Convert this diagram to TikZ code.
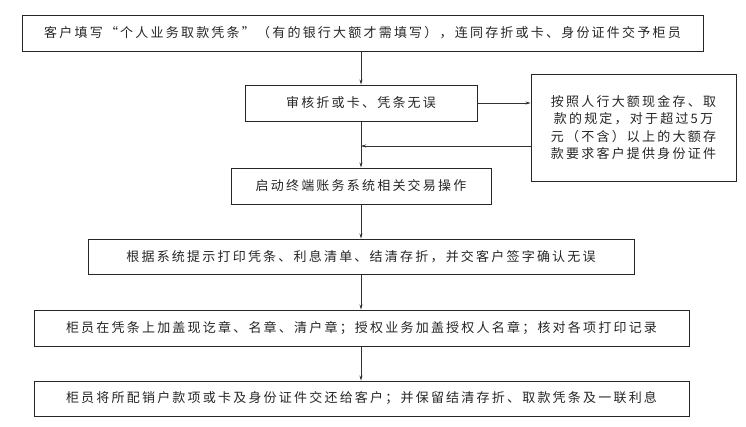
\documentclass[tikz,border=0pt]{standalone}
\usepackage{fontspec}
\newfontfamily\cjk[LetterSpace=17]{Noto Sans CJK SC}
\usetikzlibrary{arrows.meta}
\begin{document}
\begin{tikzpicture}[x=1pt,y=-1pt,
  box/.style={draw=black!85,line width=1pt,inner sep=0pt,font=\cjk\fontsize{13}{17.3}\selectfont,text=black!85},
  arr/.style={draw=black!80,line width=0.5pt,-{Stealth[length=5pt,width=3pt]}}]
\useasboundingbox[fill=white] (0,0) rectangle (746,426);
\node[box,minimum width=681pt,minimum height=36pt] (b1) at (362.5,33) {客户填写“个人业务取款凭条”（有的银行大额才需填写），连同存折或卡、身份证件交予柜员};
\node[box,minimum width=232pt,minimum height=36pt] (b2) at (361,103) {审核折或卡、凭条无误};
\node[box,minimum width=205pt,minimum height=107pt,align=center] (side) at (633.5,127.5) {按照人行大额现金存、取\\款的规定，对于超过5万\\元（不含）以上的大额存\\款要求客户提供身份证件};
\node[box,minimum width=260pt,minimum height=36pt] (b3) at (361,186) {启动终端账务系统相关交易操作};
\node[box,minimum width=546pt,minimum height=35pt] (b4) at (361,256.5) {根据系统提示打印凭条、利息清单、结清存折，并交客户签字确认无误};
\node[box,minimum width=655pt,minimum height=36pt] (b5) at (361.5,328) {柜员在凭条上加盖现讫章、名章、清户章；授权业务加盖授权人名章；核对各项打印记录};
\node[box,minimum width=655pt,minimum height=35pt] (b6) at (361.5,398.5) {柜员将所配销户款项或卡及身份证件交还给客户；并保留结清存折、取款凭条及一联利息};
\draw[arr] (b1.south -| b2.north) -- (b2.north);
\draw[arr] (b2.south) -- (b3.north);
\draw[arr] (b2.east) -- (side.west |- b2.east);
\draw[arr] ([yshift=-18.5pt]side.west) -- ([yshift=-18.5pt]side.west -| b2.south);
\draw[arr] (b3.south) -- (b4.north);
\draw[arr] (b4.south) -- (b5.north -| b4.south);
\draw[arr] (b5.south -| b4.south) -- (b6.north -| b4.south);
\end{tikzpicture}
\end{document}
